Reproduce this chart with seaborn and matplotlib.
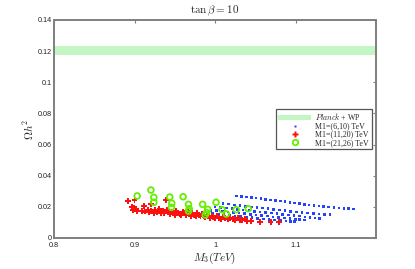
import matplotlib
matplotlib.use("Agg")
import matplotlib.pyplot as plt
from matplotlib.lines import Line2D
from matplotlib.patches import Patch
import seaborn as sns
import pandas as pd

# ---------------- data ----------------
planck_low = 0.1175
planck_high = 0.1230

blue_x = [1.027, 1.033, 1.039, 1.045, 1.051, 1.057, 1.063, 1.069, 1.075, 1.081, 1.087, 1.093, 1.099,
          1.105, 1.111, 1.117, 1.123, 1.129, 1.135, 1.141, 1.148, 1.154, 1.160, 1.166, 1.172,
          1.010, 1.017, 1.024, 1.031, 1.038, 1.045, 1.052, 1.059, 1.066, 1.073, 1.080, 1.087,
          1.094, 1.101, 1.108, 1.115, 1.122, 1.129, 1.136, 1.143,
          1.000, 1.007, 1.014, 1.021, 1.028, 1.035, 1.042, 1.049, 1.056, 1.063, 1.070, 1.077,
          1.084, 1.091, 1.098, 1.105, 1.112, 1.118, 1.124, 1.130,
          0.995, 1.002, 1.009, 1.016, 1.023, 1.030, 1.037, 1.044, 1.051, 1.058, 1.065, 1.072,
          1.079, 1.086, 1.093, 1.100, 1.105, 1.111,
          0.990, 0.997, 1.004, 1.011, 1.018, 1.025, 1.032, 1.039, 1.046, 1.053, 1.060, 1.067,
          1.074, 1.081, 1.088, 1.094, 1.099]
blue_y = [0.0270, 0.0267, 0.0264, 0.0261, 0.0257, 0.0253, 0.0249, 0.0245, 0.0241, 0.0237, 0.0233, 0.0229, 0.0225,
          0.0220, 0.0215, 0.0211, 0.0208, 0.0205, 0.0202, 0.0199, 0.0196, 0.0193, 0.0190, 0.0188, 0.0186,
          0.0222, 0.0218, 0.0213, 0.0209, 0.0204, 0.0200, 0.0196, 0.0192, 0.0188, 0.0184, 0.0180, 0.0176,
          0.0172, 0.0168, 0.0164, 0.0161, 0.0158, 0.0155, 0.0152, 0.0150,
          0.0200, 0.0196, 0.0192, 0.0188, 0.0184, 0.0180, 0.0176, 0.0172, 0.0168, 0.0164, 0.0160, 0.0156,
          0.0152, 0.0148, 0.0144, 0.0140, 0.0136, 0.0132, 0.0128, 0.0124,
          0.0178, 0.0175, 0.0172, 0.0168, 0.0164, 0.0160, 0.0156, 0.0152, 0.0148, 0.0144, 0.0140, 0.0136,
          0.0132, 0.0128, 0.0124, 0.0120, 0.0117, 0.0115,
          0.0160, 0.0157, 0.0154, 0.0150, 0.0146, 0.0142, 0.0138, 0.0134, 0.0130, 0.0126, 0.0122, 0.0118,
          0.0115, 0.0112, 0.0109, 0.0107, 0.0105]

red_x = [0.892, 0.900, 0.897, 0.899, 0.902, 0.898, 0.903, 0.909, 0.912, 0.913, 0.917, 0.918, 0.920,
         0.921, 0.924, 0.926, 0.928, 0.931, 0.933, 0.935, 0.937, 0.939, 0.940, 0.941, 0.944, 0.946,
         0.948, 0.950, 0.952, 0.954, 0.956, 0.958, 0.960, 0.962, 0.964, 0.966, 0.968, 0.970, 0.972,
         0.974, 0.976, 0.978, 0.980, 0.982, 0.984, 0.986, 0.988, 0.990, 0.992, 0.994, 0.996, 0.998,
         1.000, 1.002, 1.005, 1.008, 1.010, 1.013, 1.016, 1.019, 1.022, 1.025, 1.028, 1.031, 1.034,
         1.037, 1.040, 1.045, 1.056, 1.069, 1.080]
red_y = [0.0236, 0.0244, 0.0200, 0.0190, 0.0185, 0.0178, 0.0175, 0.0176, 0.0205, 0.0170, 0.0182, 0.0166, 0.0218,
         0.0174, 0.0163, 0.0178, 0.0168, 0.0186, 0.0162, 0.0172, 0.0158, 0.0244, 0.0182, 0.0166, 0.0155, 0.0170,
         0.0160, 0.0150, 0.0176, 0.0163, 0.0154, 0.0146, 0.0168, 0.0158, 0.0149, 0.0172, 0.0154, 0.0143, 0.0162,
         0.0150, 0.0140, 0.0158, 0.0147, 0.0138, 0.0152, 0.0142, 0.0134, 0.0148, 0.0138, 0.0130, 0.0143, 0.0134,
         0.0127, 0.0139, 0.0131, 0.0124, 0.0136, 0.0127, 0.0120, 0.0130, 0.0122, 0.0116, 0.0126, 0.0118, 0.0113,
         0.0122, 0.0112, 0.0110, 0.0101, 0.0100, 0.0102]

green_x = [0.9033, 0.9204, 0.9240, 0.9240, 0.9438, 0.9463, 0.9459, 0.9604, 0.9671, 0.9679, 0.9671,
           0.9846, 0.9909, 0.9896, 0.9879, 1.0013, 1.0088, 1.0141, 1.0263, 1.0413]
green_y = [0.0270, 0.0308, 0.0261, 0.0229, 0.0263, 0.0223, 0.0197, 0.0265, 0.0216, 0.0188, 0.0173,
           0.0216, 0.0184, 0.0163, 0.0148, 0.0229, 0.0182, 0.0154, 0.0182, 0.0188]

labels = [r"$\mathit{Planck}$ + WP",
          "M1=(6,10) TeV",
          "M1=(11,20) TeV",
          "M1=(21,26) TeV"]

x_ticks = [0.8, 0.9, 1.0, 1.1]
x_ticklabels = ["0.8", "0.9", "1", "1.1"]
y_ticks = [0, 0.02, 0.04, 0.06, 0.08, 0.10, 0.12, 0.14]
y_ticklabels = ["0", "0.02", "0.04", "0.06", "0.08", "0.1", "0.12", "0.14"]

# ---------------- style ----------------
sns.set_style("white")
plt.rcParams["font.family"] = ["Liberation Sans", "DejaVu Sans"]
plt.rcParams["mathtext.fontset"] = "cm"

band_color = "#c3f6c3"
blue = "#2244ff"
red = "#ff1010"
green = "#66ee00"
spine_gray = "#7f7f7f"

fig = plt.figure(figsize=(4.15, 2.69), dpi=100)
ax = fig.add_axes([54 / 415, 1 - 238 / 269, 322 / 415, 218 / 269])

ax.axhspan(planck_low, planck_high, color=band_color, lw=0, zorder=1)

df_b = pd.DataFrame({"x": blue_x, "y": blue_y})
df_r = pd.DataFrame({"x": red_x, "y": red_y})
df_g = pd.DataFrame({"x": green_x, "y": green_y})

sns.scatterplot(data=df_b, x="x", y="y", ax=ax, marker="s", s=3.5, color=blue,
                edgecolor="none", linewidth=0, zorder=3, legend=False)
sns.scatterplot(data=df_r, x="x", y="y", ax=ax, marker="P", s=18, color=red,
                edgecolor="none", linewidth=0, zorder=4, legend=False)
sns.scatterplot(data=df_g, x="x", y="y", ax=ax, marker="o", s=17, facecolor="none",
                edgecolor=green, linewidth=1.3, zorder=5, legend=False)

ax.set_xlim(0.8, 1.2)
ax.set_ylim(0, 0.14)
ax.set_xticks(x_ticks)
ax.set_xticklabels(x_ticklabels)
ax.set_yticks(y_ticks)
ax.set_yticklabels(y_ticklabels)
ax.tick_params(direction="in", length=2.5, width=0.8, color=spine_gray, labelsize=5.2,
               top=True, right=True, labelcolor="#222222")
ax.tick_params(axis="x", pad=3.2)
ax.tick_params(axis="y", pad=1.5)
for sp in ax.spines.values():
    sp.set_color(spine_gray)
    sp.set_linewidth(1.4)

ax.set_title(r"$\tan\beta = 10$", fontsize=8, pad=4.5)
ax.set_xlabel(r"$M_3(TeV)$", fontsize=8, labelpad=1)
ax.set_ylabel(r"$\Omega h^2$", fontsize=8, labelpad=1)

handles = [Patch(facecolor=band_color, edgecolor="none"),
           Line2D([], [], ls="none", marker="s", ms=1.6, color=blue, mec="none"),
           Line2D([], [], ls="none", marker="P", ms=4.2, color=red, mec="none"),
           Line2D([], [], ls="none", marker="o", ms=4, mfc="none", mec=green, mew=1.3)]
leg = ax.legend(handles, labels, loc="upper left", bbox_to_anchor=(0.689, 0.592),
                prop={"family": ["Liberation Serif", "DejaVu Serif"], "size": 5.7},
                frameon=True, fancybox=False, framealpha=1,
                edgecolor="#555555", handlelength=4.2, handleheight=0.5,
                handletextpad=0.5, labelspacing=0.02, borderpad=0.3,
                borderaxespad=0)
leg.get_frame().set_linewidth(0.9)

fig.savefig("out.png", dpi=100)
